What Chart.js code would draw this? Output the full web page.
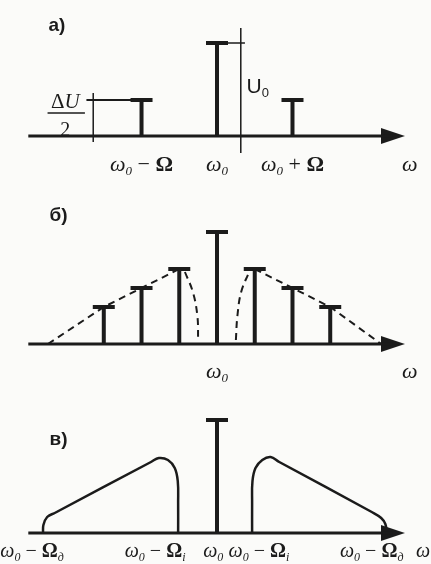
<!DOCTYPE html>
<html>
<head>
<meta charset="utf-8">
<script src="https://cdn.jsdelivr.net/npm/chart.js@4.4.1/dist/chart.umd.min.js"></script>
<style>
  html, body { margin: 0; padding: 0; background: #fbfbf9; }
  #wrap { position: relative; width: 431px; height: 564px; }
  canvas { position: absolute; left: 0; }
</style>
</head>
<body>
<div id="wrap">
  <canvas id="chartA" width="431" height="190" style="top:0"></canvas>
  <canvas id="chartB" width="431" height="200" style="top:190px"></canvas>
  <canvas id="chartC" width="431" height="184" style="top:380px"></canvas>
</div>
<script>
// frequency axis: carrier ω0 sits at 0, one unit = Ω
const xMin = -5.75, xMax = 5.67;
const axisStart = -5.0, axisEnd = 4.66;

// а) carrier plus two side lines
const aPos = [-2, 0, 2];
const aAmp = [36, 93, 36];
const aTicks = ['ω_0 − Ω', 'ω_0', 'ω_0 + Ω'];
const aLevelX = -3.28;
const aU0X = 0.63;

// б) several side line pairs under an envelope
const bPos = [-3, -2, -1, 0, 1, 2, 3];
const bAmp = [37, 56, 75, 112, 75, 56, 37];
const bEnvLeft = [[-4.48, 0], [-3, 37], [-2, 56], [-1, 75]];
const bEnvRight = [[1, 75], [2, 56], [3, 37], [4.35, 0]];
const bInnerLeft = [[-0.85, 72], [-0.64, 52], [-0.52, 28], [-0.5, 4]];
const bInnerRight = [[0.5, 4], [0.54, 28], [0.64, 52], [0.85, 72]];
const bTicks = ['ω_0'];

// в) continuous side bands
const cPos = [0];
const cAmp = [113];
const cLeftBand = [[-4.61, 0], [-4.6, 8], [-4.5, 16], [-4.3, 20], [-1.75, 71], [-1.54, 75],
  [-1.3, 73], [-1.12, 65], [-1.04, 52], [-1.03, 30], [-1.03, 0]];
const cRightBand = [[0.93, 0], [0.93, 30], [0.94, 52], [1.02, 65], [1.2, 73], [1.42, 76],
  [1.65, 71], [4.1, 21], [4.35, 15], [4.46, 9], [4.5, 0]];
const cTickX = [-4.9, -1.64, -0.1, 1.11, 4.1];
const cTicks = ['ω_0 − Ω_д', 'ω_0 − Ω_i', 'ω_0', 'ω_0 − Ω_i', 'ω_0 − Ω_д'];

const ink = '#1b1b1b';
const serif = '"Liberation Serif", "DejaVu Serif", serif';
const sans = '"Liberation Sans", Arial, sans-serif';

// arrow head for the frequency axis
const arrow = document.createElement('canvas');
arrow.width = 24; arrow.height = 16;
(function () {
  const g = arrow.getContext('2d');
  g.fillStyle = ink;
  g.beginPath();
  g.moveTo(0, 0); g.lineTo(24, 8); g.lineTo(0, 16); g.closePath();
  g.fill();
})();

const pts = arr => arr.map(p => ({ x: p[0], y: p[1] }));

function stems(pos, amp) {
  const out = [];
  pos.forEach((p, i) => out.push({ x: p, y: 0 }, { x: p, y: amp[i] }, { x: p, y: null }));
  return out;
}

function lineSet(data, extra) {
  return Object.assign({
    data, borderColor: ink, borderWidth: 2, pointRadius: 0,
    tension: 0, spanGaps: false, fill: false, clip: false
  }, extra || {});
}

function spectrum(pos, amp) {
  return [
    lineSet(stems(pos, amp), { borderWidth: 4 }),
    lineSet(pos.map((p, i) => ({ x: p, y: amp[i] })), {
      showLine: false, pointStyle: 'line', pointRadius: 11,
      pointBorderWidth: 4, pointBorderColor: ink
    })
  ];
}

function axisSets() {
  return [
    lineSet([{ x: axisStart, y: 0 }, { x: axisEnd, y: 0 }], { borderWidth: 3 }),
    lineSet([{ x: axisEnd, y: 0 }], { showLine: false, pointStyle: arrow, pointRadius: 10 })
  ];
}

// text with "_x" subscripts; ω, U and subscripts are italic, Ω bold
function drawRich(ctx, str, cx, cy, size, family, weight) {
  const parts = [];
  for (let i = 0; i < str.length; i++) {
    if (str[i] === '_') { parts.push({ t: str[++i], sub: true }); continue; }
    parts.push({ t: str[i], sub: false });
  }
  const fontOf = p => {
    const it = family === serif && (p.sub || /[ωUд]/.test(p.t)) ? 'italic ' : '';
    const wt = p.t === 'Ω' ? 'bold' : (weight || '');
    return it + wt + ' ' + (p.sub ? Math.round(size * 0.6) : size) + 'px ' + family;
  };
  let w = 0;
  parts.forEach(p => { ctx.font = fontOf(p); p.w = ctx.measureText(p.t).width; w += p.w; });
  let x = cx - w / 2;
  ctx.textBaseline = 'middle';
  ctx.textAlign = 'left';
  parts.forEach(p => {
    ctx.font = fontOf(p);
    ctx.fillText(p.t, x, p.sub ? cy + size * 0.3 : cy);
    x += p.w;
  });
}

function textPlugin(items) {
  return {
    id: 'texts',
    afterDatasetsDraw(chart) {
      const ctx = chart.ctx, xs = chart.scales.x, ys = chart.scales.y;
      ctx.save();
      ctx.fillStyle = ink;
      ctx.strokeStyle = ink;
      items.forEach(it => {
        if (it.rule) {
          ctx.lineWidth = 1.5;
          ctx.beginPath();
          ctx.moveTo(xs.getPixelForValue(it.rule[0]), ys.getPixelForValue(it.y));
          ctx.lineTo(xs.getPixelForValue(it.rule[1]), ys.getPixelForValue(it.y));
          ctx.stroke();
          return;
        }
        drawRich(ctx, it.text, xs.getPixelForValue(it.x), ys.getPixelForValue(it.y),
          it.size || 22, it.family || serif, it.weight);
      });
      ctx.restore();
    }
  };
}

function makeChart(id, yMin, yMax, datasets, items) {
  return new Chart(document.getElementById(id), {
    type: 'line',
    data: { datasets },
    options: {
      responsive: false,
      animation: false,
      events: [],
      layout: { padding: 0, autoPadding: false },
      plugins: { legend: { display: false }, tooltip: { enabled: false } },
      scales: {
        x: { type: 'linear', min: xMin, max: xMax, display: false },
        y: { type: 'linear', min: yMin, max: yMax, display: false }
      }
    },
    plugins: [textPlugin(items)]
  });
}

// а)
makeChart('chartA', -54, 136, [
  ...axisSets(),
  ...spectrum(aPos, aAmp),
  lineSet([{ x: aLevelX, y: -6 }, { x: aLevelX, y: 43 }], { borderWidth: 1.5 }),
  lineSet([{ x: -3.46, y: aAmp[0] }, { x: aPos[0], y: aAmp[0] }], { borderWidth: 2 }),
  lineSet([{ x: aU0X, y: 108 }, { x: aU0X, y: -17 }], { borderWidth: 1.5 }),
  lineSet([{ x: aPos[1], y: aAmp[1] }, { x: 0.74, y: aAmp[1] }], { borderWidth: 1.5 })
], [
  { text: 'а)', x: -4.24, y: 110, size: 19, family: sans, weight: 'bold' },
  ...aTicks.map((t, i) => ({ text: t, x: aPos[i], y: -29 })),
  { text: 'ω', x: 5.11, y: -29 },
  { text: 'ΔU', x: -4.02, y: 34, size: 21 },
  { rule: [-4.49, -3.5], y: 23 },
  { text: '2', x: -4.02, y: 5, size: 20 },
  { text: 'U_0', x: 1.08, y: 49, size: 21, family: sans }
]);

// б)
makeChart('chartB', -46, 154, [
  ...axisSets(),
  ...spectrum(bPos, bAmp),
  lineSet(pts(bEnvLeft), { borderDash: [7, 5] }),
  lineSet(pts(bEnvRight), { borderDash: [7, 5] }),
  lineSet(pts(bInnerLeft), { borderDash: [7, 5], tension: 0.4 }),
  lineSet(pts(bInnerRight), { borderDash: [7, 5], tension: 0.4 })
], [
  { text: 'б)', x: -4.2, y: 128, size: 19, family: sans, weight: 'bold' },
  { text: bTicks[0], x: 0, y: -28 },
  { text: 'ω', x: 5.11, y: -28 }
]);

// в)
makeChart('chartC', -31, 153, [
  ...axisSets(),
  ...spectrum(cPos, cAmp),
  lineSet(pts(cLeftBand), { borderWidth: 2.5, tension: 0.4 }),
  lineSet(pts(cRightBand), { borderWidth: 2.5, tension: 0.4 })
], [
  { text: 'в)', x: -4.2, y: 93, size: 19, family: sans, weight: 'bold' },
  ...cTicks.map((t, i) => ({ text: t, x: cTickX[i], y: -19, size: 20 })),
  { text: 'ω', x: 5.46, y: -19, size: 20 }
]);
</script>
</body>
</html>
